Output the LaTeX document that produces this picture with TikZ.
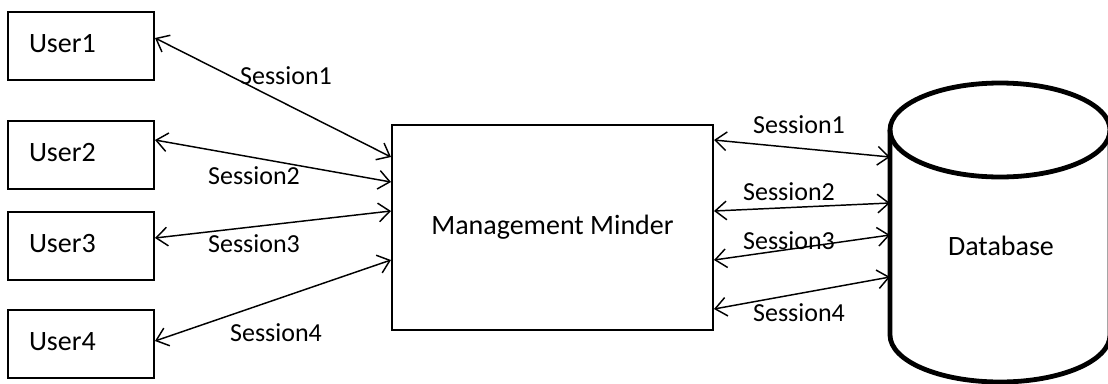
\documentclass[tikz,border=0pt]{standalone}
\usepackage{fontspec}
\setmainfont{Carlito}
\usetikzlibrary{arrows.meta,calc}

\tikzset{
	userbox/.style={draw,line width=1.5pt,minimum width=109.5pt,minimum height=51pt,
		text width=78pt,inner xsep=15.75pt,align=left,font=\fontsize{21}{25}\selectfont},
	conn/.style={line width=1.1pt,{Straight Barb[length=8.5pt,width=14pt]}-{Straight Barb[length=8.5pt,width=14pt]}},
	lbl/.style={inner sep=0pt,font=\fontsize{19.5}{23}\selectfont}
}

\begin{document}
\begin{tikzpicture}[x=0.75pt,y=-0.75pt]
	
	\useasboundingbox (0,0) rectangle (1108,383);
	
	\node[userbox] (u1) at (81,46) {\raisebox{4pt}{User1}};
	\node[userbox] (u2) at (81,155) {\raisebox{4pt}{User2}};
	\node[userbox] (u3) at (81,246) {\raisebox{4pt}{User3}};
	\node[userbox] (u4) at (81,344) {\raisebox{4pt}{User4}};
	
	\node[draw,line width=1.5pt,minimum width=240.75pt,minimum height=153.75pt,
		font=\fontsize{21}{25}\selectfont] (mm) at (552.5,227.5) {\raisebox{3pt}{Management Minder}};
	
	% database
	\draw[line width=3.6pt] (1000,130) ellipse[x radius=110,y radius=47];
	\draw[line width=3.6pt] (890,130) -- (890,335) arc[start angle=180,end angle=0,x radius=110,y radius=47] -- (1110,130);
	\coordinate (dbw) at (890,232);
	\node[font=\fontsize{21}{25}\selectfont,inner sep=0pt] (db) at (1001,246) {Database};
	
	\draw[conn] ($(u1.east)+(0,-8)$) -- ($(mm.west)+(0,-70.5)$);
	\draw[conn] ($(u2.east)+(0,-15)$) -- ($(mm.west)+(0,-45.5)$);
	\draw[conn] ($(u3.east)+(0,-8)$) -- ($(mm.west)+(0,-16.5)$);
	\draw[conn] ($(u4.east)+(0,-3)$) -- ($(mm.west)+(0,32.5)$);
	
	\draw[conn] ($(mm.east)+(0,-87.5)$) -- ($(dbw)+(0,-75)$);
	\draw[conn] ($(mm.east)+(0,-16.5)$) -- ($(dbw)+(0,-29)$);
	\draw[conn] ($(mm.east)+(0,32.5)$) -- ($(dbw)+(0,3)$);
	\draw[conn] ($(mm.east)+(0,81.5)$) -- ($(dbw)+(0,45)$);
	
	\node[lbl] (s1l) at (286,76) {Session1};
	\node[lbl] (s2l) at (254,176) {Session2};
	\node[lbl] (s3l) at (254,244) {Session3};
	\node[lbl] (s4l) at (276,333) {Session4};
	\node[lbl] (s1r) at (799,125) {Session1};
	\node[lbl] (s2r) at (789,192) {Session2};
	\node[lbl] (s3r) at (789,241) {Session3};
	\node[lbl] (s4r) at (799,313) {Session4};
	
\end{tikzpicture}
\end{document}
